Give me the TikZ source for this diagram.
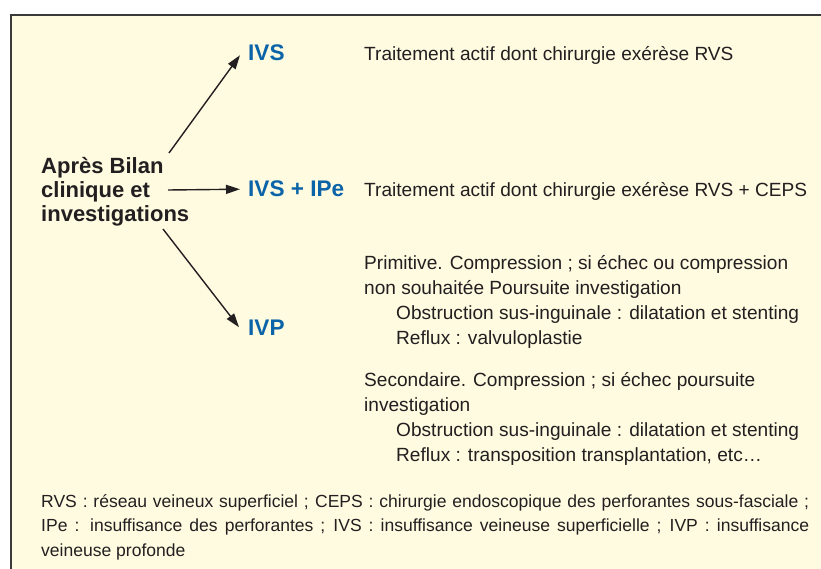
\documentclass[tikz,border=0pt]{standalone}
\usepackage{fontspec}
\setmainfont{Liberation Sans}
\usetikzlibrary{arrows.meta}
\definecolor{bgcream}{HTML}{FEFBE1}
\definecolor{txt}{HTML}{231F20}
\definecolor{ivblue}{HTML}{0B63A8}
\definecolor{framec}{HTML}{3A3A3A}
\newlength\fitw
\newsavebox\fitbox
\newcommand\fitsize[3]{\sbox\fitbox{\normalfont\fontsize{10}{12}\selectfont #3}\fitw=\wd\fitbox\pgfmathsetmacro#1{10*#2/\fitw}\global\let#1#1}
\AtBeginDocument{%
\fitsize\mainsz{443}{Traitement actif dont chirurgie exérèse RVS + CEPS}%
\fitsize\boldsz{148}{\bfseries investigations}%
\fitsize\bluesz{96}{\bfseries IVS + IPe}%
\fitsize\footsz{755}{RVS : réseau veineux superficiel ; CEPS : chirurgie endoscopique des perforantes sous-fasciale ;}%
}
\begin{document}
\begin{tikzpicture}[x=1pt,y=-1pt,
  maintext/.style={font=\fontsize{\mainsz}{24.7}\selectfont, text=txt, inner sep=0pt, anchor=base west, align=left},
  srctext/.style={font=\fontsize{\boldsz}{24}\selectfont\bfseries, text=txt, inner sep=0pt, anchor=base west, align=left},
  label/.style={font=\fontsize{\bluesz}{24}\selectfont\bfseries, text=ivblue, inner sep=0pt, anchor=base west},
  foottext/.style={font=\fontsize{\footsz}{24.5}\selectfont, text=txt, inner sep=0pt, anchor=base west, text width=768pt, align=justify},
  arr/.style={draw=txt, line width=1.4pt, -{Triangle[length=14pt,width=9pt]}}]
\useasboundingbox (0,0) rectangle (821,569);
\fill[white] (0,0) rectangle (821,569);
\fill[bgcream] (11,15) rectangle (821,569);
\draw[framec, line width=1.3pt] (11,569) -- (11,15) -- (821,15);

% multi-line nodes: base anchor = baseline of the last line
\node[srctext] (src) at (41,222) {Après Bilan\\clinique et\\investigations};
\node[label] (ivs) at (248,61) {IVS};
\node[label] (ivsipe) at (248,197) {IVS + IPe};
\node[label] (ivp) at (248,335) {IVP};

\coordinate (s1) at (169,153);
\coordinate (s2) at (168,190);
\coordinate (s3) at (163,229);
\draw[arr] (s1) -- ([xshift=-8pt,yshift=-2pt]ivs.west);
\draw[arr] (s2) -- ([xshift=-8pt]ivsipe.west);
\draw[arr] (s3) -- ([xshift=-9pt]ivp.west);

\node[maintext] (t1) at (364,61) {Traitement actif dont chirurgie exérèse RVS};
\node[maintext] (t2) at (364,197) {Traitement actif dont chirurgie exérèse RVS + CEPS};
\node[maintext] (t3) at (364,344) {Primitive. Compression ; si échec ou compression\\non souhaitée Poursuite investigation\\\hspace*{32pt}Obstruction sus-inguinale : dilatation et stenting\\\hspace*{32pt}Reflux : valvuloplastie};
\node[maintext] (t4) at (364,461) {Secondaire. Compression ; si échec poursuite\\investigation\\\hspace*{32pt}Obstruction sus-inguinale : dilatation et stenting\\\hspace*{32pt}Reflux : transposition transplantation, etc…};

\node[foottext] (foot) at (41,507) {RVS : réseau veineux superficiel ; CEPS : chirurgie endoscopique des perforantes sous-fasciale ;\linebreak IPe : insuffisance des perforantes ; IVS : insuffisance veineuse superficielle ; IVP : insuffisance\linebreak veineuse profonde};
\end{tikzpicture}
\end{document}
